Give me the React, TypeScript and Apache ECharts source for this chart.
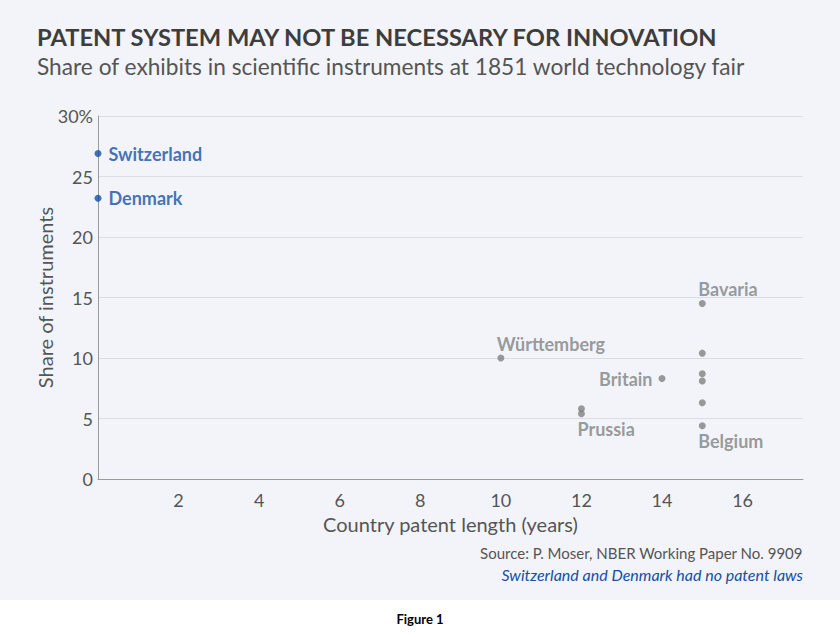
import React, { useEffect, useRef } from "react";
import * as echarts from "echarts";

const TITLE = "PATENT SYSTEM MAY NOT BE NECESSARY FOR INNOVATION";
const SUBTITLE = "Share of exhibits in scientific instruments at 1851 world technology fair";
const SOURCE = "Source: P. Moser, NBER Working Paper No. 9909";
const NOTE = "Switzerland and Denmark had no patent laws";

// no-patent countries
const bluePoints: [number, number, string][] = [
  [0, 26.9, "Switzerland"],
  [0, 23.2, "Denmark"],
];

// countries with patent laws: [years, share, label, label placement]
const grayPoints: [number, number, string, string][] = [
  [10, 10.0, "Württemberg", "top"],
  [12, 5.8, "", ""],
  [12, 5.4, "Prussia", "bottom"],
  [14, 8.3, "Britain", "left"],
  [15, 14.5, "Bavaria", "top"],
  [15, 10.4, "", ""],
  [15, 8.7, "", ""],
  [15, 8.1, "", ""],
  [15, 6.3, "", ""],
  [15, 4.4, "Belgium", "bottom"],
];

const yTicks = [0, 5, 10, 15, 20, 25, 30];
const xTickLabels = [2, 4, 6, 8, 10, 12, 14, 16];

const FONT = "Lato, 'Noto Sans', sans-serif";
const BLUE = "#134fa6";
const GRAY = "#818181";

export default function App() {
  const ref = useRef<HTMLDivElement>(null);
  useEffect(() => {
    document.body.style.margin = "0";
    const chart = echarts.init(ref.current!, null, { renderer: "svg" });
    const grayData = grayPoints.map(([x, y, name, pos]) => {
      const item: any = { value: [x, y], name };
      if (name) {
        let label: any = { show: true, formatter: name };
        if (pos === "top") label = { ...label, position: "top", align: "left", offset: [-4, 3] };
        if (pos === "bottom") label = { ...label, position: "bottom", align: "left", offset: [-4, -2] };
        if (pos === "left") label = { ...label, position: "left", distance: 6 };
        item.label = label;
      }
      return item;
    });
    chart.setOption({
      animation: false,
      backgroundColor: "#ffffff",
      textStyle: { fontFamily: FONT },
      graphic: [
        { type: "rect", z: -10, silent: true, shape: { x: 0, y: 0, width: 840, height: 600 }, style: { fill: "#f2f4f9" } },
        { type: "text", left: 37, top: 25, style: { text: TITLE, fontFamily: FONT, fontWeight: "bold", fontSize: 23.7, fill: "#3d3d3d" } },
        { type: "text", left: 37, top: 55, style: { text: SUBTITLE, fontFamily: FONT, fontSize: 22.7, fill: "#555555" } },
        { type: "text", right: 37, top: 545, style: { text: SOURCE, fontFamily: FONT, fontSize: 15, fill: "#555555", align: "right" } },
        { type: "text", right: 37, top: 566, style: { text: NOTE, fontFamily: FONT, fontSize: 16, fontStyle: "italic", fill: BLUE, align: "right" } },
        { type: "text", left: "center", top: 612, style: { text: "Figure 1", fontFamily: FONT, fontSize: 13, fontWeight: "bold", fill: "#000000" } },
      ],
      grid: { left: 98, right: 37, top: 116, bottom: 158 },
      xAxis: {
        type: "value",
        min: 0,
        max: 17.5,
        interval: 2,
        name: "Country patent length (years)",
        nameLocation: "middle",
        nameGap: 35,
        nameMoveOverlap: false,
        nameTextStyle: { fontSize: 20, color: "#555555", fontFamily: FONT },
        axisLine: { show: true, lineStyle: { color: "#9a9a9a", width: 1 } },
        axisTick: { show: false },
        splitLine: { show: false },
        axisLabel: {
          margin: 12,
          fontSize: 18,
          color: "#555555",
          fontFamily: FONT,
          formatter: (v: number) => (xTickLabels.includes(v) ? String(v) : ""),
        },
      },
      yAxis: {
        type: "value",
        min: yTicks[0],
        max: yTicks[yTicks.length - 1],
        interval: 5,
        name: "Share of instruments",
        nameLocation: "middle",
        nameGap: 43,
        nameMoveOverlap: false,
        nameTextStyle: { fontSize: 20, color: "#555555", fontFamily: FONT },
        axisLine: { show: true, lineStyle: { color: "#9a9a9a", width: 1 } },
        axisTick: { show: false },
        splitLine: { show: true, lineStyle: { color: "#dcdde2", width: 1 } },
        axisLabel: {
          margin: 5,
          fontSize: 18,
          color: "#555555",
          fontFamily: FONT,
          formatter: (v: number) => (v === 30 ? "30%" : String(v)),
        },
      },
      series: [
        {
          type: "scatter",
          symbolSize: 7,
          itemStyle: { color: GRAY },
          label: { show: false, color: GRAY, fontWeight: "bold", fontSize: 18, fontFamily: FONT },
          data: grayData,
        },
        {
          type: "scatter",
          symbolSize: 7,
          itemStyle: { color: BLUE },
          label: {
            show: true,
            position: "right",
            distance: 7,
            color: BLUE,
            fontWeight: "bold",
            fontSize: 18,
            fontFamily: FONT,
            formatter: (p: any) => p.data.name,
          },
          data: bluePoints.map(([x, y, name]) => ({ value: [x, y], name })),
        },
      ],
    });
    return () => chart.dispose();
  }, []);
  return <div ref={ref} style={{ width: 840, height: 637 }} />;
}
